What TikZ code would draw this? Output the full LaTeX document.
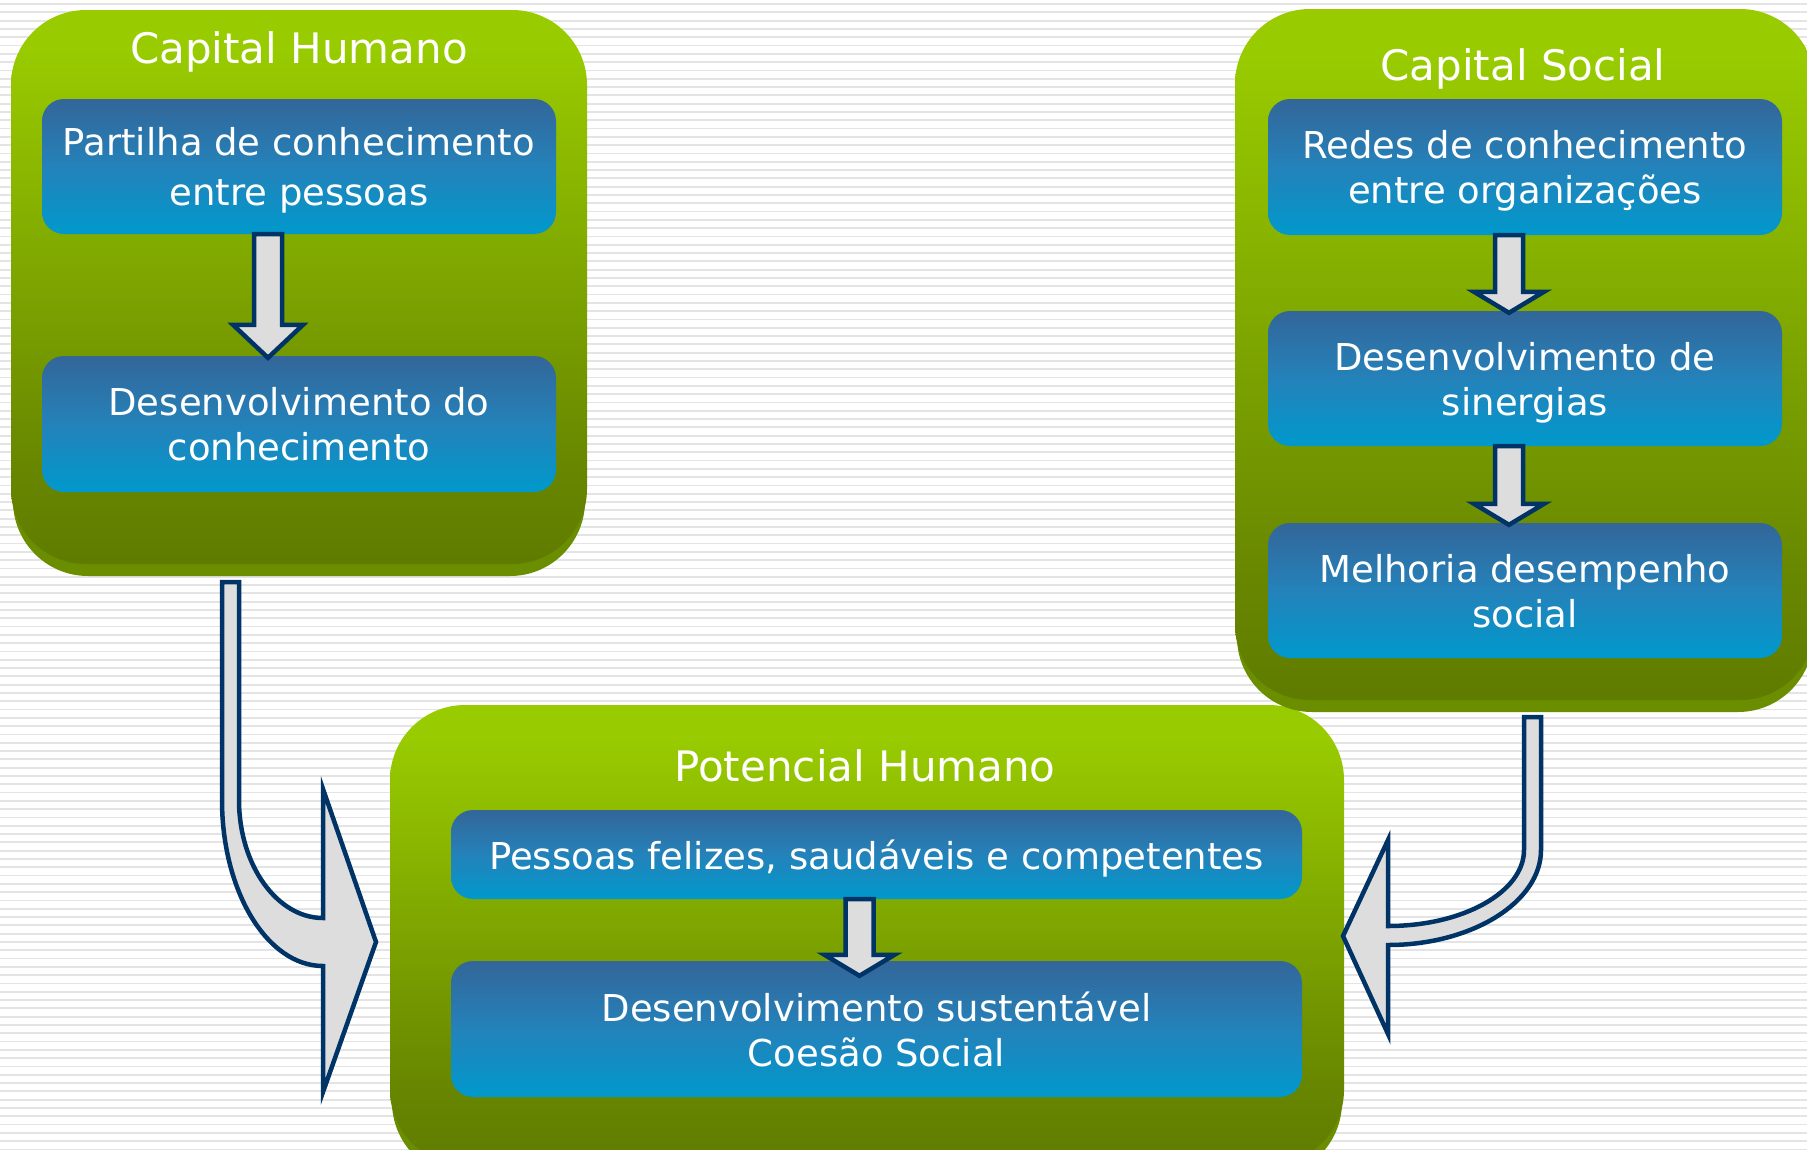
\documentclass[tikz,border=0pt]{standalone}
\usepackage{fontspec}
\setmainfont{DejaVu Sans}
\usetikzlibrary{calc}

\definecolor{limegreen}{RGB}{153,204,0}
\definecolor{lightgreen}{RGB}{138,182,0}
\definecolor{midgreen}{RGB}{122,160,0}
\definecolor{darkgreen}{RGB}{104,135,0}
\definecolor{olivegreen}{RGB}{91,117,0}
\definecolor{lipgreen}{RGB}{106,142,0}
\definecolor{bluetop}{RGB}{51,102,153}
\definecolor{bluemid}{RGB}{36,130,186}
\definecolor{bluebot}{RGB}{0,153,204}
\definecolor{navyline}{RGB}{0,51,102}
\definecolor{arrowgray}{RGB}{221,221,221}
\definecolor{stripegray}{RGB}{228,228,228}

\pgfdeclareverticalshading{greenfade}{100bp}{color(0bp)=(olivegreen); color(20bp)=(olivegreen); color(34bp)=(darkgreen); color(48bp)=(midgreen); color(60bp)=(lightgreen); color(72bp)=(limegreen); color(100bp)=(limegreen)}

% block arrow: from node, to node, xshift, head base above target, tip below target
\newcommand{\blockdown}[5]{%
  \draw[blockarrow] let \p1=([xshift=#3]#1.south), \p2=(#2.north) in
    (\x1-14pt,\y1) -- (\x1+14pt,\y1) -- (\x1+14pt,\y2+#4) -- (\x1+35pt,\y2+#4)
    -- (\x1,\y2-#5) -- (\x1-35pt,\y2+#4) -- (\x1-14pt,\y2+#4) -- cycle;
}

\begin{document}
\begin{tikzpicture}[x=1pt,y=-1pt,
    greenbox/.style={rounded corners=75pt, shading=greenfade, inner sep=0pt},
    lipbox/.style={rounded corners=75pt, fill=lipgreen},
    bluebox/.style={rounded corners=22pt, top color=bluetop, bottom color=bluebot,
      middle color=bluemid, minimum width=514pt, inner sep=0pt, text=white,
      align=center, text depth=0pt, font=\fontsize{37pt}{45pt}\selectfont},
    titletext/.style={text=white, font=\fontsize{42pt}{50pt}\selectfont},
    blockarrow/.style={draw=navyline, fill=arrowgray, line width=4.5pt},
  ]
  \useasboundingbox (0,0) rectangle (1807,1149);
  \clip (0,0) rectangle (1807,1149);

  % Striped background
  \fill[white] (0,0) rectangle (1807,1149);
  \foreach \k in {0,...,138}
    \draw[stripegray, line width=1.8pt] (0,{4+\k*8.3}) -- (1807,{4+\k*8.3});

  % Potencial Humano
  \fill[lipbox] (392,717) rectangle (1342,1177);
  \node[greenbox, minimum width=954pt, minimum height=460pt] (potencial) at (867,935) {};
  \node[titletext] (potencialt) at (865,766) {Potencial Humano};
  \node[bluebox, minimum width=851pt, minimum height=89pt] (pessoas) at (876.5,854.5)
    {Pessoas felizes, saudáveis e competentes};
  \node[bluebox, minimum width=851pt, minimum height=136pt] (coesao) at (876.5,1029)
    {Desenvolvimento sustentável\\Coesão Social};

  % Capital Humano
  \fill[lipbox] (13,40) rectangle (585,576);
  \node[greenbox, minimum width=576pt, minimum height=554pt] (humano) at (299,287) {};
  \node[titletext] (humanot) at (299,52) {Capital Humano};
  \node[bluebox, minimum height=135pt, font=\fontsize{37pt}{50pt}\selectfont] (partilha)
    at (299,166.5) {Partilha de conhecimento\\entre pessoas};
  \node[bluebox, minimum height=136pt] (conhec) at (299,424)
    {Desenvolvimento do\\conhecimento};

  % Capital Social
  \fill[lipbox] (1237,40) rectangle (1813,712);
  \node[greenbox, minimum width=580pt, minimum height=691pt] (social) at (1525,354.5) {};
  \node[titletext] (socialt) at (1523,69) {Capital Social};
  \node[bluebox, minimum height=136pt] (redes) at (1525,167)
    {Redes de conhecimento\\entre organizações};
  \node[bluebox, minimum height=135pt] (sinergias) at (1525,378.5)
    {Desenvolvimento de\\sinergias};
  \node[bluebox, minimum height=135pt] (melhoria) at (1525,590.5)
    {Melhoria desempenho\\social};

  % Arrows inside the boxes
  \blockdown{partilha}{conhec}{-31pt}{31pt}{2pt}
  \blockdown{redes}{sinergias}{-16pt}{19pt}{2pt}
  \blockdown{sinergias}{melhoria}{-16pt}{19pt}{2pt}
  \blockdown{pessoas}{coesao}{-17pt}{6pt}{15pt}

  % Curved arrows into Potencial Humano
  \draw[blockarrow] (222,582) -- (239,582) -- (239,800)
    .. controls (239,865) and (277,918) .. (323,918) -- (323,789) -- (376,942)
    -- (323,1092) -- (323,966) .. controls (267,966) and (222,891) .. (222,800) -- cycle;
  \draw[blockarrow] (1524,717) -- (1541,717) -- (1541,850)
    .. controls (1541,902) and (1472,945) .. (1388,945) -- (1388,1034) -- (1343,936)
    -- (1388,840) -- (1388,926) .. controls (1463,926) and (1524,892) .. (1524,850) -- cycle;
\end{tikzpicture}
\end{document}
